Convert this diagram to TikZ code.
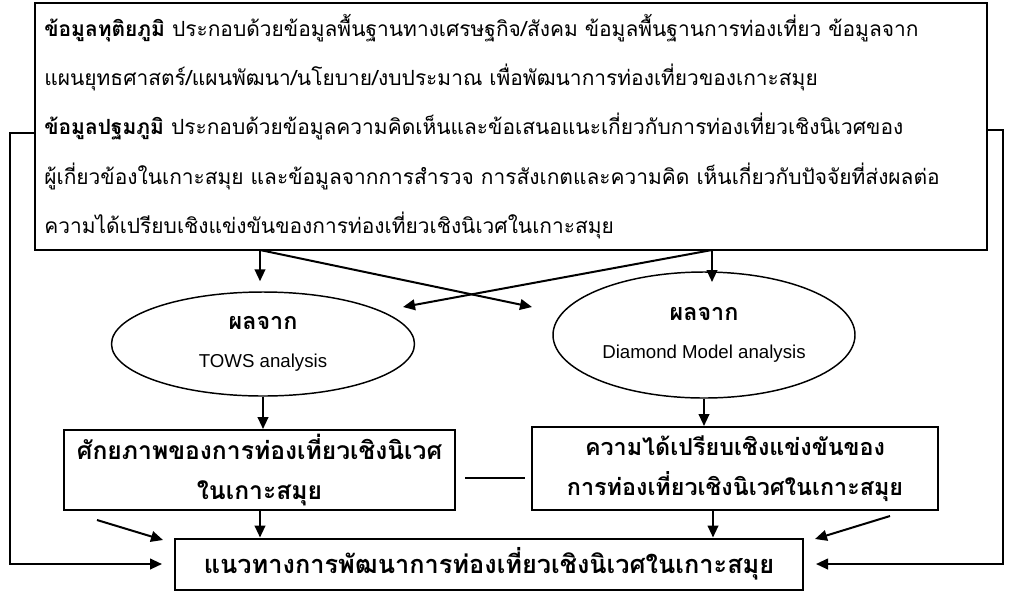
\documentclass[tikz,border=0pt]{standalone}
\usepackage{fontspec}
\newfontfamily\thaifont[Script=Thai]{Loma}
\newfontfamily\latinfont{Liberation Sans}
\usetikzlibrary{arrows.meta,shapes.geometric}

\begin{document}
\begin{tikzpicture}[x=0.75pt,y=0.75pt,yscale=-1
,pstyle0/.style={draw=black,line width=1.5pt,inner sep=0pt,font=\thaifont}
,pstyle1/.style={draw=black,line width=1.1pt,ellipse,inner sep=0pt,align=center,font=\thaifont\fontsize{17.5}{29}\selectfont}
,pstyle2/.style={line width=1.5pt,-{Triangle[length=9pt,width=8pt]}}
,pstyle3/.style={line width=0.9pt}
,pstyle4/.style={pstyle0,align=center,font=\thaifont\bfseries\fontsize{#1}{30.5}\selectfont}
]
\useasboundingbox (0,0) rectangle (1009,594);
\node[pstyle0,minimum width=714pt,minimum height=185.25pt,text width=700pt,align=left,font=\thaifont\fontsize{15.7}{36.9}\selectfont] (datanode) at (511,126.5)
{\textbf{ข้อมูลทุติยภูมิ} ประกอบด้วยข้อมูลพื้นฐานทางเศรษฐกิจ/สังคม ข้อมูลพื้นฐานการท่องเที่ยว ข้อมูลจาก\\
แผนยุทธศาสตร์/แผนพัฒนา/นโยบาย/งบประมาณ เพื่อพัฒนาการท่องเที่ยวของเกาะสมุย\\
\textbf{ข้อมูลปฐมภูมิ} ประกอบด้วยข้อมูลความคิดเห็นและข้อเสนอแนะเกี่ยวกับการท่องเที่ยวเชิงนิเวศของ\\
ผู้เกี่ยวข้องในเกาะสมุย และข้อมูลจากการสำรวจ การสังเกตและความคิด เห็นเกี่ยวกับปัจจัยที่ส่งผลต่อ\\
ความได้เปรียบเชิงแข่งขันของการท่องเที่ยวเชิงนิเวศในเกาะสมุย};
\node[pstyle1,minimum width=227.25pt,minimum height=78pt] (towsnode) at (263,344)
{\textbf{ผลจาก}\\{\latinfont\fontsize{14}{15}\selectfont TOWS analysis}};
\node[pstyle1,minimum width=226.5pt,minimum height=94.5pt] (diamondnode) at (704,335)
{\textbf{ผลจาก}\\{\latinfont\fontsize{14}{15}\selectfont Diamond Model analysis}};
\node[pstyle4=18.5,minimum width=293.25pt,minimum height=60pt] (potentialnode) at (259.5,470)
{ศักยภาพของการท่องเที่ยวเชิงนิเวศ\\ในเกาะสมุย};
\node[pstyle4=17.5,minimum width=304.5pt,minimum height=62.25pt] (advantagenode) at (735,468.5)
{ความได้เปรียบเชิงแข่งขันของ\\การท่องเที่ยวเชิงนิเวศในเกาะสมุย};
\node[pstyle4=19,minimum width=471pt,minimum height=38.25pt] (guidenode) at (489,564)
{แนวทางการพัฒนาการท่องเที่ยวเชิงนิเวศในเกาะสมุย};
\coordinate (topleft) at (260,250);
\coordinate (topright) at (712,250);
\coordinate (crossA) at (532,307);
\coordinate (crossB) at (403,307);
\coordinate (downR) at (712,282);
\coordinate (advout) at (713,510);
\coordinate (slantA) at (97,520);
\coordinate (slantAend) at (163,540);
\coordinate (slantB) at (890,516);
\coordinate (slantBend) at (815,539);
\coordinate (backL) at (10,133);
\coordinate (backR) at (1003,130);
\coordinate (linkA) at (465,478);
\coordinate (linkB) at (525,478);
\draw[pstyle2,shorten >=7.5pt] (topleft) -- (topleft |- towsnode.north);
\draw[pstyle2] (topleft) -- (crossA);
\draw[pstyle2] (topright) -- (crossB);
\draw[pstyle2] (topright) -- (downR);
\draw[pstyle2] (towsnode.south) -- (towsnode.south |- potentialnode.north);
\draw[pstyle2] (diamondnode.south) -- (diamondnode.south |- advantagenode.north);
\draw[pstyle2] (topleft |- potentialnode.south) -- (topleft |- guidenode.north);
\draw[pstyle2] (advout) -- (advout |- guidenode.north);
\draw[pstyle2] (slantA) -- (slantAend);
\draw[pstyle2] (slantB) -- (slantBend);
\draw[pstyle2,shorten >=9pt] (datanode.west |- backL) -- (backL) |- (guidenode.west);
\draw[pstyle2,shorten >=9pt] (datanode.east |- backR) -- (backR) |- (guidenode.east);
\draw[pstyle3] (linkA) -- (linkB);
\end{tikzpicture}
\end{document}
